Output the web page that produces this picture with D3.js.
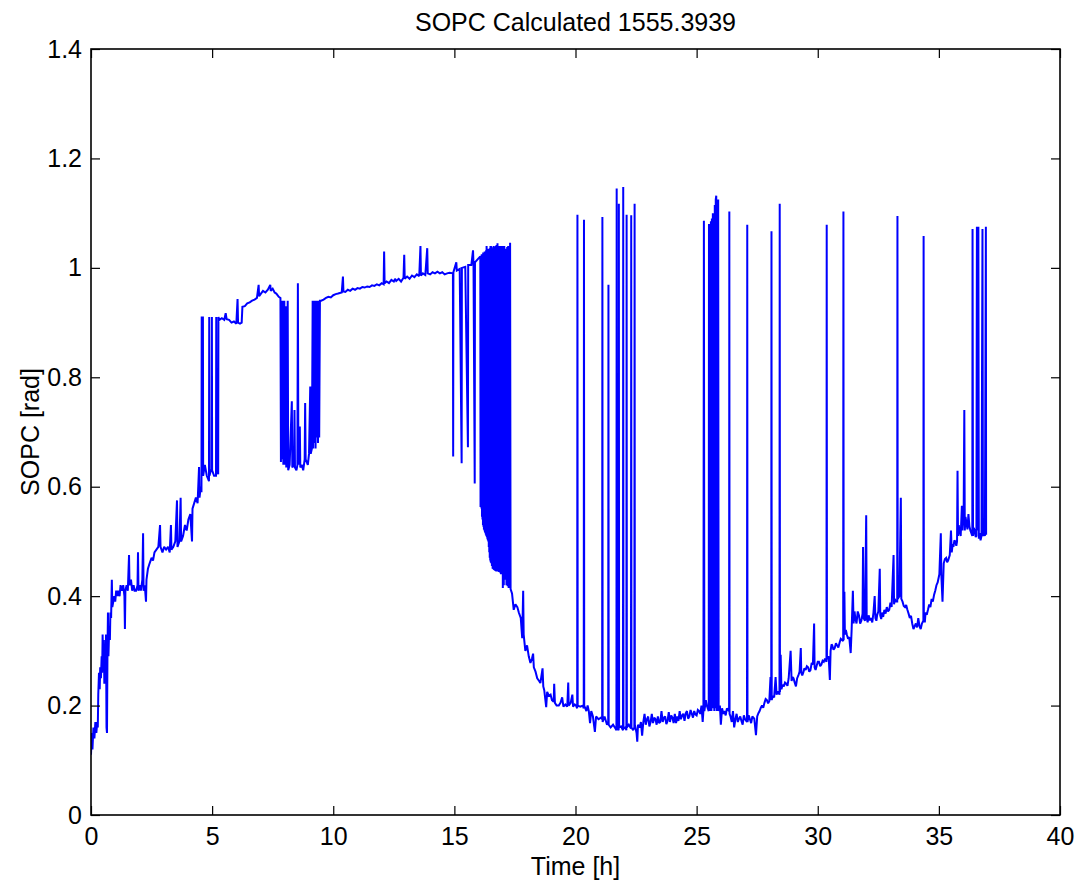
<!DOCTYPE html>
<html>
<head>
<meta charset="utf-8">
<script src="https://cdn.jsdelivr.net/npm/d3@7"></script>
<style>
  html, body { margin: 0; padding: 0; background: #fff; }
  svg { display: block; }
  text { font-family: "Liberation Sans", Arial, Helvetica, sans-serif; fill: #000; }
</style>
</head>
<body>
<svg id="chart" width="1081" height="888"></svg>
<script>
// SOPC trace, [time in hours, SOPC in rad], split into phases of the run.
const ramp = [
  [0.00,0.11],[0.03,0.15],[0.06,0.12],[0.10,0.16],[0.14,0.14],[0.18,0.17],[0.22,0.15],[0.26,0.17],[0.28,0.16],
  [0.30,0.22],[0.33,0.26],[0.36,0.23],[0.38,0.27],[0.41,0.25],[0.44,0.29],[0.46,0.26],[0.48,0.33],[0.50,0.27],
  [0.53,0.32],[0.55,0.24],[0.57,0.28],[0.60,0.26],[0.62,0.33],[0.64,0.16],[0.66,0.15],[0.68,0.30],[0.70,0.37],
  [0.72,0.29],[0.75,0.34],[0.78,0.32],[0.80,0.37],[0.83,0.36],[0.86,0.43],[0.88,0.38],[0.92,0.39],[0.96,0.40],
  [1.00,0.39],[1.04,0.41],[1.08,0.40],[1.12,0.41],[1.18,0.40],[1.22,0.42],[1.28,0.41],[1.33,0.42],[1.38,0.40],
  [1.40,0.34],[1.42,0.41],[1.47,0.42],[1.52,0.41],[1.57,0.475],[1.59,0.42],[1.65,0.43],[1.70,0.41],[1.76,0.42],
  [1.80,0.41],[1.86,0.41],[1.92,0.42],[1.94,0.48],[1.96,0.41],[2.02,0.42],[2.06,0.41],[2.12,0.43],[2.15,0.515],
  [2.17,0.41],[2.22,0.42],[2.27,0.39],[2.29,0.43],[2.35,0.45],[2.42,0.46],[2.50,0.47],[2.56,0.465],[2.62,0.48],
  [2.70,0.485],[2.78,0.49],[2.85,0.53],[2.87,0.49],[2.95,0.48],[3.02,0.49],[3.10,0.485],[3.18,0.49],[3.25,0.48],
  [3.30,0.53],[3.32,0.485],[3.40,0.49],[3.48,0.50],[3.55,0.575],[3.57,0.49],[3.65,0.50],[3.70,0.58],[3.72,0.50],
  [3.80,0.51],[3.88,0.53],[3.95,0.52],[4.02,0.54],[4.10,0.55],[4.17,0.50],[4.19,0.56],[4.26,0.57],[4.33,0.58],
  [4.40,0.57],[4.46,0.636],[4.48,0.58],[4.53,0.60],[4.56,0.59]
];

const firstPlateau = [
  [4.57,0.911],[4.58,0.637],[4.62,0.911],[4.63,0.62],[4.70,0.64],[4.78,0.62],[4.87,0.61],[4.88,0.91],[4.89,0.62],
  [4.95,0.63],[4.98,0.63],[4.99,0.91],[5.00,0.63],[5.08,0.62],[5.16,0.62],[5.17,0.91],[5.18,0.63],[5.25,0.623],
  [5.26,0.91],[5.30,0.905],[5.40,0.908],[5.50,0.905],[5.56,0.917],[5.60,0.906],[5.70,0.905],[5.80,0.900],
  [5.90,0.902],[6.00,0.898],[6.05,0.943],[6.07,0.900],[6.15,0.898],[6.22,0.900],[6.25,0.929],[6.35,0.930],
  [6.45,0.935],[6.55,0.937],[6.65,0.940],[6.75,0.942],[6.85,0.945],[6.92,0.969],[6.94,0.948],[7.00,0.952],
  [7.10,0.958],[7.20,0.955],[7.30,0.960],[7.40,0.969],[7.42,0.958],[7.50,0.962],[7.58,0.955],[7.65,0.953],
  [7.75,0.947],[7.82,0.945]
];

const firstDip = [
  [7.84,0.645],[7.86,0.94],[7.88,0.65],[7.92,0.94],[7.94,0.64],[7.98,0.94],[8.00,0.64],[8.04,0.93],[8.06,0.635],
  [8.12,0.94],[8.14,0.63],[8.20,0.64],[8.29,0.756],[8.31,0.635],[8.38,0.64],[8.40,0.74],[8.42,0.635],[8.48,0.63],
  [8.52,0.64],[8.54,0.972],[8.56,0.64],[8.62,0.71],[8.64,0.635],[8.70,0.64],[8.76,0.63],[8.82,0.65],[8.84,0.753],
  [8.86,0.65],[8.95,0.64],[9.00,0.66],[9.05,0.783],[9.07,0.66],[9.12,0.67],[9.15,0.94],[9.17,0.67],[9.20,0.94],
  [9.22,0.68],[9.25,0.94],[9.27,0.67],[9.30,0.94],[9.32,0.69],[9.35,0.94],[9.37,0.68],[9.40,0.94],[9.42,0.69],
  [9.45,0.94]
];

const highPlateau = [
  [9.50,0.940],[9.60,0.942],[9.70,0.945],[9.80,0.947],[9.90,0.946],[10.00,0.950],[10.10,0.952],[10.20,0.953],
  [10.35,0.955],[10.40,0.984],[10.42,0.957],[10.50,0.956],[10.60,0.960],[10.70,0.958],[10.80,0.962],[10.90,0.960],
  [11.00,0.963],[11.10,0.962],[11.20,0.965],[11.30,0.964],[11.40,0.966],[11.50,0.965],[11.60,0.968],[11.70,0.967],
  [11.80,0.970],[11.90,0.968],[12.00,0.972],[12.08,0.970],[12.10,1.030],[12.12,0.972],[12.20,0.975],[12.30,0.972],
  [12.40,0.978],[12.50,0.975],[12.55,0.980],[12.60,0.976],[12.70,0.980],[12.80,0.975],[12.90,0.982],[12.93,1.024],
  [12.95,0.980],[13.05,0.984],[13.15,0.980],[13.25,0.986],[13.35,0.983],[13.45,0.988],[13.55,0.985],[13.60,1.040],
  [13.62,0.986],[13.70,0.990],[13.80,0.987],[13.88,1.036],[13.90,0.990],[14.00,0.988],[14.10,0.992],[14.20,0.990],
  [14.30,0.993],[14.40,0.990],[14.50,0.992],[14.60,0.988],[14.70,0.990],[14.80,0.991],[14.94,0.990]
];

const burstAndFall = [
  [14.95,0.655],[14.96,0.992],[15.08,1.010],[15.10,0.995],[15.22,0.998],[15.30,0.643],[15.31,1.000],[15.45,1.002],
  [15.56,0.672],[15.57,1.005],[15.70,1.005],[15.77,1.032],[15.79,1.005],[15.84,0.606],[15.85,1.010],[15.95,1.015],
  [16.05,1.020],[16.07,1.020],[16.08,0.563],[16.09,1.022],[16.10,0.565],[16.11,1.022],[16.12,0.560],[16.13,1.025],
  [16.14,0.545],[16.15,1.025],[16.16,0.540],[16.17,1.025],[16.18,0.530],[16.19,1.028],[16.20,0.527],[16.21,1.028],
  [16.22,0.522],[16.23,1.028],[16.24,0.520],[16.25,1.030],[16.26,0.517],[16.27,1.030],[16.28,0.515],[16.29,1.030],
  [16.30,0.512],[16.31,1.032],[16.32,0.510],[16.33,1.040],[16.34,0.508],[16.35,1.035],[16.36,0.505],[16.37,1.032],
  [16.38,0.502],[16.39,1.032],[16.40,0.500],[16.41,1.035],[16.42,0.490],[16.43,1.035],[16.44,0.480],[16.45,1.035],
  [16.46,0.470],[16.47,1.036],[16.48,0.465],[16.49,1.040],[16.50,0.462],[16.51,1.040],[16.52,0.460],[16.53,1.038],
  [16.55,0.455],[16.56,1.035],[16.58,0.450],[16.59,1.036],[16.61,0.449],[16.62,1.040],[16.64,0.448],[16.65,1.038],
  [16.67,0.447],[16.68,1.038],[16.70,0.446],[16.71,1.040],[16.73,0.445],[16.74,1.042],[16.76,0.445],[16.78,1.045],
  [16.80,0.445],[16.82,1.040],[16.84,0.444],[16.85,1.040],[16.88,0.443],[16.90,1.040],[16.92,0.440],[16.93,1.040],
  [16.95,0.560],[16.97,1.040],[17.00,0.415],[17.02,1.040],[17.04,0.420],[17.06,1.040],[17.08,0.430],[17.12,1.035],
  [17.15,0.420],[17.18,1.038],[17.20,0.418],[17.22,1.040],[17.24,0.415],[17.30,1.046],[17.32,0.413],[17.38,0.405],
  [17.45,0.375],[17.52,0.385],[17.60,0.380],[17.66,0.370],[17.74,0.360],[17.80,0.323],[17.84,0.410],[17.86,0.330],
  [17.93,0.300],[18.00,0.310],[18.07,0.290],[18.14,0.278],[18.20,0.285],[18.25,0.295],[18.28,0.270],[18.35,0.262],
  [18.42,0.250],[18.50,0.245],[18.55,0.241],[18.64,0.268],[18.67,0.235],[18.71,0.228],[18.79,0.197],[18.83,0.225],
  [18.90,0.218],[18.97,0.220],[19.03,0.210],[19.10,0.207],[19.12,0.240],[19.15,0.205],[19.22,0.200],[19.31,0.200],
  [19.38,0.205],[19.45,0.215],[19.50,0.198],[19.58,0.202],[19.66,0.198],[19.70,0.242],[19.72,0.200],[19.80,0.205],
  [19.87,0.220],[19.90,0.198],[19.97,0.202]
];

const valley = [
  [20.02,0.200],[20.07,0.195],[20.08,1.097],[20.09,0.200],[20.20,0.198],[20.30,0.200],[20.34,0.195],[20.35,1.088],
  [20.36,0.200],[20.45,0.190],[20.50,0.200],[20.55,0.190],[20.60,0.168],[20.65,0.190],[20.72,0.180],[20.80,0.152],
  [20.85,0.180],[20.95,0.175],[21.05,0.178],[21.10,0.175],[21.11,1.093],[21.12,0.170],[21.20,0.180],[21.30,0.165],
  [21.35,0.170],[21.36,0.969],[21.37,0.165],[21.45,0.160],[21.55,0.165],[21.65,0.158],[21.69,0.155],[21.70,1.145],
  [21.71,0.160],[21.78,0.155],[21.79,1.117],[21.80,0.160],[21.88,0.162],[21.96,0.155],[21.97,1.148],[21.98,0.158],
  [22.05,0.160],[22.10,0.155],[22.11,1.097],[22.12,0.160],[22.20,0.165],[22.29,0.158],[22.30,1.096],[22.31,0.160],
  [22.38,0.155],[22.43,0.160],[22.44,1.117],[22.45,0.165],[22.52,0.150],[22.55,0.134],[22.58,0.165],[22.65,0.160],
  [22.70,0.170],[22.75,0.145],[22.80,0.170],[22.85,0.185],[22.90,0.165],[22.95,0.175],[23.00,0.180],[23.05,0.162],
  [23.10,0.170],[23.15,0.185],[23.20,0.168],[23.25,0.178],[23.30,0.175],[23.35,0.165],[23.40,0.180],[23.45,0.168],
  [23.50,0.170],[23.55,0.190],[23.60,0.170],[23.65,0.178],[23.70,0.180],[23.75,0.166],[23.80,0.172],[23.85,0.188],
  [23.90,0.170],[23.95,0.182],[24.00,0.178],[24.05,0.168],[24.10,0.185],[24.15,0.168],[24.20,0.180],[24.25,0.172],
  [24.30,0.190],[24.35,0.175],[24.40,0.182],[24.45,0.185],[24.50,0.172],[24.55,0.186],[24.60,0.190],[24.65,0.176],
  [24.70,0.180],[24.75,0.192],[24.80,0.185],[24.85,0.178],[24.90,0.190],[24.95,0.184],[25.00,0.182],[25.05,0.192],
  [25.10,0.190],[25.15,0.185],[25.20,0.200],[25.25,0.170],[25.28,0.190],[25.30,1.086],[25.32,0.190],[25.38,0.210],
  [25.42,0.200],[25.50,0.190],[25.51,1.080],[25.53,0.190],[25.55,1.080],[25.57,0.200],[25.59,1.085],[25.61,0.190],
  [25.63,1.090],[25.65,0.195],[25.67,1.100],[25.69,0.200],[25.71,1.100],[25.73,0.190],[25.75,1.115],[25.77,0.195],
  [25.79,1.125],[25.81,1.132],[25.83,0.190],[25.85,1.120],[25.87,0.200],[25.89,1.125],[25.91,0.190],[25.96,0.200],
  [26.00,0.165],[26.05,0.195],[26.10,0.185],[26.15,0.190],[26.20,0.182],[26.25,0.195],[26.34,0.190],[26.35,1.103],
  [26.36,0.185],[26.40,0.180],[26.45,0.170],[26.50,0.190],[26.55,0.160],[26.60,0.175],[26.65,0.185],[26.70,0.170],
  [26.75,0.176],[26.80,0.180],[26.85,0.172],[26.90,0.165],[26.95,0.182],[27.00,0.175],[27.08,0.170],[27.09,1.079],
  [27.10,0.170],[27.15,0.182],[27.20,0.175],[27.25,0.168],[27.30,0.180],[27.38,0.176],[27.45,0.146],[27.50,0.180],
  [27.55,0.186],[27.60,0.190],[27.65,0.196],[27.70,0.200],[27.75,0.196],[27.80,0.205],[27.85,0.212],[27.90,0.210],
  [27.95,0.204],[28.00,0.208],[28.05,0.252],[28.08,0.210],[28.09,1.067],[28.10,0.210],[28.15,0.218],[28.20,0.215],
  [28.26,0.252],[28.30,0.220],[28.36,0.226],[28.42,0.220],[28.43,1.117],[28.44,0.225],[28.47,0.293],[28.50,0.230],
  [28.55,0.238],[28.60,0.235],[28.65,0.242],[28.70,0.240],[28.75,0.236],[28.80,0.250],[28.88,0.300],[28.92,0.245],
  [28.96,0.252],[29.00,0.250],[29.05,0.242],[29.10,0.235],[29.15,0.250],[29.20,0.255],[29.25,0.262],[29.30,0.305],
  [29.32,0.260],[29.36,0.255],[29.40,0.260],[29.45,0.268],[29.50,0.265],[29.55,0.272],[29.60,0.270],[29.65,0.262],
  [29.70,0.265],[29.75,0.278],[29.80,0.275],[29.85,0.350],[29.87,0.270],[29.91,0.265],[29.95,0.272],[30.00,0.280],
  [30.05,0.280],[30.10,0.272],[30.15,0.275]
];

const recovery = [
  [30.20,0.282],[30.25,0.280],[30.30,0.286],[30.36,0.280],[30.37,1.079],[30.38,0.285],[30.45,0.290],[30.50,0.247],
  [30.53,0.300],[30.57,0.312],[30.60,0.310],[30.65,0.302],[30.70,0.305],[30.75,0.314],[30.80,0.310],[30.85,0.306],
  [30.90,0.315],[30.95,0.322],[31.00,0.320],[31.05,0.318],[31.06,1.103],[31.07,0.320],[31.10,0.408],[31.12,0.330],
  [31.16,0.338],[31.20,0.330],[31.25,0.322],[31.30,0.325],[31.36,0.296],[31.40,0.340],[31.45,0.410],[31.48,0.350],
  [31.52,0.372],[31.55,0.360],[31.60,0.350],[31.65,0.372],[31.70,0.365],[31.75,0.350],[31.80,0.355],[31.85,0.368],
  [31.87,0.490],[31.89,0.360],[31.95,0.355],[32.00,0.548],[32.02,0.360],[32.06,0.352],[32.10,0.365],[32.15,0.356],
  [32.20,0.360],[32.25,0.352],[32.30,0.370],[32.35,0.400],[32.38,0.360],[32.42,0.355],[32.45,0.365],[32.50,0.372],
  [32.56,0.450],[32.58,0.365],[32.62,0.358],[32.65,0.370],[32.70,0.362],[32.75,0.375],[32.80,0.368],[32.85,0.380],
  [32.90,0.372],[32.95,0.375],[33.00,0.388],[33.05,0.380],[33.13,0.475],[33.15,0.385],[33.18,0.395],[33.22,0.390],
  [33.28,0.390],[33.29,1.095],[33.30,0.395],[33.37,0.400],[33.43,0.580],[33.45,0.395],[33.50,0.390],[33.55,0.382],
  [33.60,0.380],[33.65,0.384],[33.70,0.375],[33.75,0.368],[33.80,0.360],[33.85,0.364],[33.90,0.350],[33.95,0.340],
  [34.00,0.345],[34.05,0.350],[34.10,0.343],[34.15,0.360],[34.20,0.345],[34.25,0.340],[34.30,0.350],[34.36,0.355],
  [34.37,1.058],[34.38,0.360],[34.42,0.352],[34.45,0.370],[34.50,0.366],[34.55,0.375],[34.60,0.385],[34.65,0.380],
  [34.70,0.395],[34.75,0.390],[34.80,0.402],[34.85,0.410],[34.90,0.420],[34.95,0.425],[35.02,0.440],[35.08,0.515],
  [35.10,0.440],[35.15,0.390],[35.20,0.460],[35.25,0.468],[35.30,0.470],[35.34,0.462],[35.38,0.465],[35.45,0.475],
  [35.50,0.520],[35.53,0.480],[35.57,0.495],[35.60,0.490],[35.64,0.502],[35.68,0.500],[35.72,0.492],[35.75,0.500],
  [35.77,0.629],[35.79,0.510],[35.82,0.530],[35.85,0.520],[35.90,0.510],[35.95,0.565],[35.97,0.520],[36.00,0.540],
  [36.02,0.530],[36.05,0.740],[36.07,0.520],[36.10,0.545],[36.15,0.530],[36.18,0.522],[36.22,0.550],[36.26,0.528],
  [36.30,0.520],[36.34,0.515],[36.38,0.510],[36.39,1.071],[36.41,0.510],[36.44,0.525],[36.48,0.520],[36.52,0.508],
  [36.55,0.510],[36.57,1.075],[36.59,0.520],[36.63,1.075],[36.65,0.505],[36.69,0.515],[36.72,0.502],[36.76,0.510],
  [36.80,1.071],[36.82,0.510],[36.86,0.520],[36.90,0.510],[36.94,1.075],[36.95,0.512]
];

const xTicks = [0, 5, 10, 15, 20, 25, 30, 35, 40];
const yTicks = [0, 0.2, 0.4, 0.6, 0.8, 1, 1.2, 1.4];
const titleText = "SOPC Calculated 1555.3939";
const xLabel = "Time [h]";
const yLabel = "SOPC [rad]";

const series = [].concat(ramp, firstPlateau, firstDip, highPlateau, burstAndFall, valley, recovery);

// Plot box and scales
const box = { left: 91, right: 1060, top: 49, bottom: 815 };
const fontSize = 25;
const tickLen = 9;

const svg = d3.select("#chart");
const x = d3.scaleLinear().domain([0, 40]).range([box.left, box.right]);
const y = d3.scaleLinear().domain([0, 1.4]).range([box.bottom, box.top]);

svg.append("rect").attr("width", 1081).attr("height", 888).attr("fill", "#fff");

svg.append("defs").append("clipPath").attr("id", "plotClip")
  .append("rect")
  .attr("x", box.left).attr("y", box.top)
  .attr("width", box.right - box.left).attr("height", box.bottom - box.top);

// Trace
const line = d3.line().x(d => x(d[0])).y(d => y(d[1]));
svg.append("path")
  .datum(series)
  .attr("clip-path", "url(#plotClip)")
  .attr("fill", "none")
  .attr("stroke", "#0000ff")
  .attr("stroke-width", 2)
  .attr("stroke-linejoin", "miter")
  .attr("stroke-miterlimit", 2)
  .attr("d", line);

// Axes: inward ticks on all four sides, labels on bottom and left
function styleAxis(g) {
  g.select(".domain").remove();
  g.selectAll(".tick line").attr("stroke", "#000").attr("stroke-width", 1.2);
  g.selectAll(".tick text")
    .attr("font-size", fontSize)
    .attr("font-family", '"Liberation Sans", Arial, sans-serif')
    .attr("fill", "#000");
}

const fmtY = d => d3.format("~g")(d);

svg.append("g")
  .attr("transform", `translate(0,${box.bottom})`)
  .call(d3.axisBottom(x).tickValues(xTicks).tickSizeInner(-tickLen).tickSizeOuter(0).tickPadding(12).tickFormat(d3.format("d")))
  .call(styleAxis);

svg.append("g")
  .attr("transform", `translate(0,${box.top})`)
  .call(d3.axisTop(x).tickValues(xTicks).tickSizeInner(-tickLen).tickSizeOuter(0).tickFormat(""))
  .call(styleAxis);

svg.append("g")
  .attr("transform", `translate(${box.left},0)`)
  .call(d3.axisLeft(y).tickValues(yTicks).tickSizeInner(-tickLen).tickSizeOuter(0).tickPadding(9).tickFormat(fmtY))
  .call(styleAxis);

svg.append("g")
  .attr("transform", `translate(${box.right},0)`)
  .call(d3.axisRight(y).tickValues(yTicks).tickSizeInner(-tickLen).tickSizeOuter(0).tickFormat(""))
  .call(styleAxis);

// Frame
svg.append("rect")
  .attr("x", box.left).attr("y", box.top)
  .attr("width", box.right - box.left).attr("height", box.bottom - box.top)
  .attr("fill", "none").attr("stroke", "#000").attr("stroke-width", 1.6);

// Title and axis labels
svg.append("text")
  .attr("x", (box.left + box.right) / 2).attr("y", 31)
  .attr("text-anchor", "middle").attr("font-size", fontSize)
  .text(titleText);

svg.append("text")
  .attr("x", (box.left + box.right) / 2).attr("y", 875)
  .attr("text-anchor", "middle").attr("font-size", fontSize)
  .text(xLabel);

svg.append("text")
  .attr("transform", `translate(39,${(box.top + box.bottom) / 2}) rotate(-90)`)
  .attr("text-anchor", "middle").attr("font-size", fontSize)
  .text(yLabel);
</script>
</body>
</html>
